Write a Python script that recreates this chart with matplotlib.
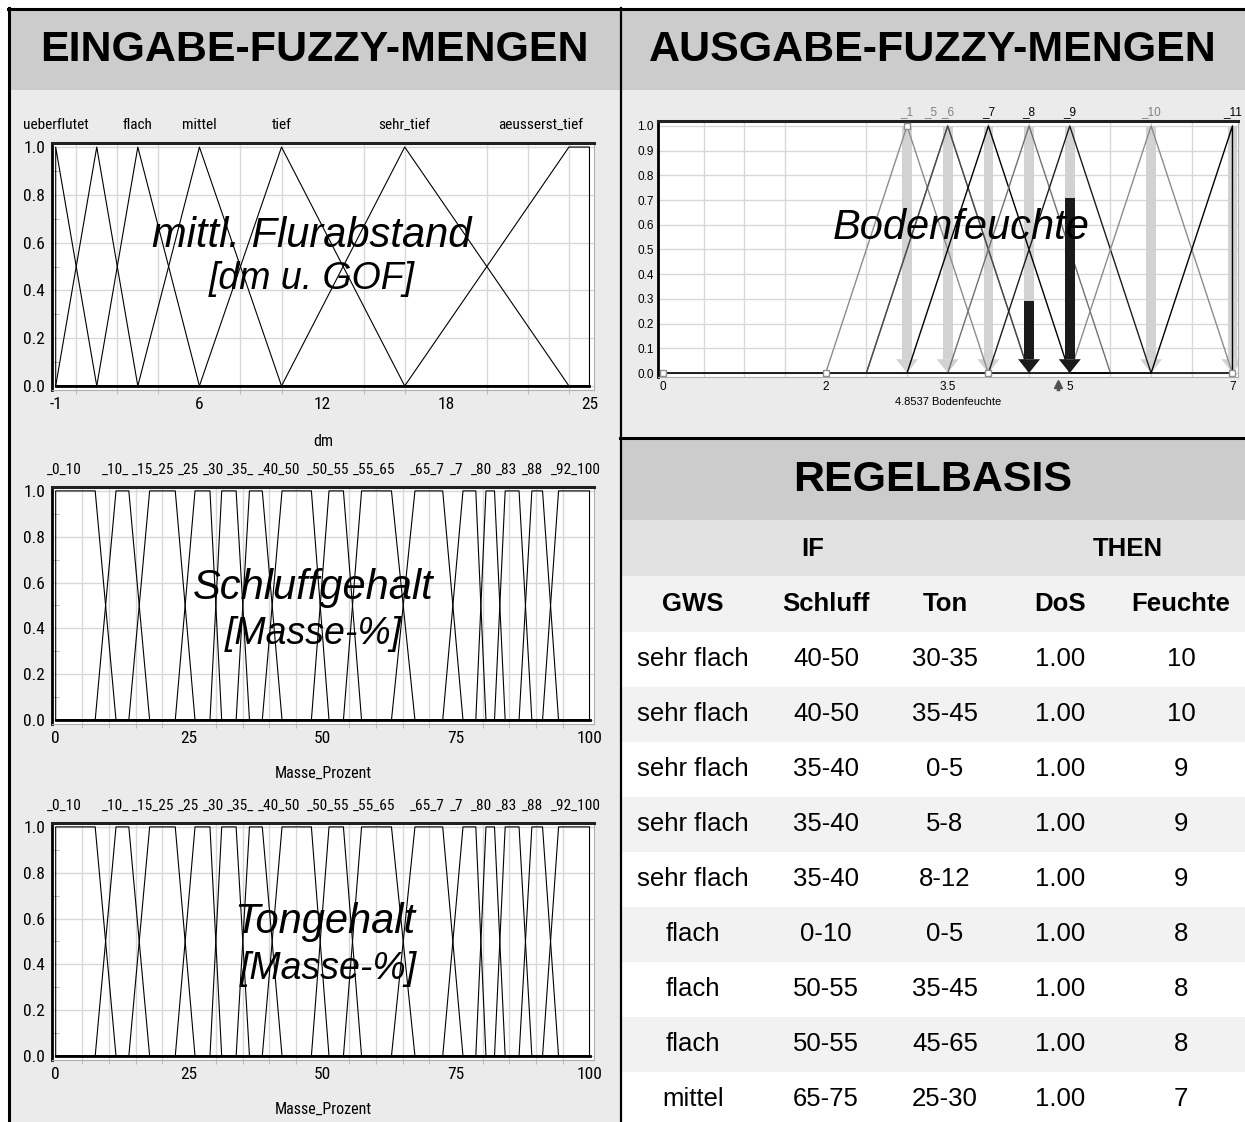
import os
import numpy as np
import matplotlib
matplotlib.use("Agg")
import matplotlib.pyplot as plt
from matplotlib import font_manager as fm
from matplotlib.patches import Rectangle, Polygon

W, H = 1245, 1122

# --- Eingabe: mittlerer Flurabstand [dm], Trapez-Stuetzpunkte a-b-c-d
flur_names = ["ueberflutet", "sehr_flach", "flach", "mittel", "tief", "sehr_tief", "aeusserst_tief"]
flur_a = [-1, -1, 1, 3, 6, 10, 16]
flur_b = [-1, 1, 3, 6, 10, 16, 24]
flur_c = [-1, 1, 3, 6, 10, 16, 25]
flur_d = [1, 3, 6, 10, 16, 24, 25]
flur_ticks = [-1, 6, 12, 18, 25]

# --- Eingabe: Schluff- und Tongehalt [Masse-%] (gleiche Mengen)
gehalt_names = ["_0_10", "_10_15", "_15_25", "_25_30", "_30_35", "_35_40", "_40_50", "_50_55",
                "_55_65", "_65_75", "_75_80", "_80_83", "_83_88", "_88_92", "_92_100"]
gehalt_label_x = [-1.7, 8.6, 14.2, 22.8, 27.5, 32, 37.8, 47, 55.6, 66.3, 73.8, 77.8, 82.5, 87.4, 92.8]
gehalt_a = [0, 7.4, 13.7, 22.4, 28.9, 33.8, 38.7, 47.9, 53.9, 62.9, 72.5, 78.7, 82.2, 86.8, 91.2]
gehalt_b = [0, 11.3, 17.6, 26.1, 31.1, 36.3, 42.4, 51.2, 57.3, 67.3, 76.3, 80.6, 84.2, 89.2, 94.2]
gehalt_c = [7.4, 13.7, 22.4, 28.9, 33.8, 38.7, 47.9, 53.9, 62.9, 72.5, 78.7, 82.2, 86.8, 91.2, 100]
gehalt_d = [11.3, 17.6, 26.1, 31.1, 36.3, 42.4, 51.2, 57.3, 67.3, 76.3, 80.6, 84.2, 89.2, 94.2, 100]
gehalt_ticks = [0, 25, 50, 75, 100]

# --- Ausgabe: Bodenfeuchte
out_names = ["_1", "_5", "_6", "_7", "_8", "_9", "_10", "_11"]
out_left = [2.0, 2.5, 2.5, 3.0, 3.5, 4.0, 5.0, 6.0]
out_peak = [3.0, 3.5, 3.5, 4.0, 4.5, 5.0, 6.0, 7.0]
out_right = [4.0, 4.5, 4.5, 5.0, 5.5, 6.0, 7.0, 7.0]
out_activation = [0.0, 0.0, 0.0, 0.0, 0.29, 0.71, 0.0, 0.0]
out_ticks = [0, 2, 3.5, 5, 7]
defuzz = 4.8537

# --- Regelbasis
gws = ["sehr flach", "sehr flach", "sehr flach", "sehr flach", "sehr flach", "flach", "flach", "flach", "mittel"]
schluff = ["40-50", "40-50", "35-40", "35-40", "35-40", "0-10", "50-55", "50-55", "65-75"]
ton = ["30-35", "35-45", "0-5", "5-8", "8-12", "0-5", "35-45", "45-65", "25-30"]
dos = [1.00, 1.00, 1.00, 1.00, 1.00, 1.00, 1.00, 1.00, 1.00]
feuchte = [10, 10, 9, 9, 9, 8, 8, 8, 7]

SANS = ["Liberation Sans", "DejaVu Sans"]
PANEL = "#ebebeb"
HEAD = "#cccccc"
GRID = "#d8d8d8"


def narrow_font(size):
    # schmale Schrift wie im Fuzzy-Programm, falls vorhanden
    prefs = ["LiberationSansNarrow-Regular", "RobotoCondensed-Regular", "DejaVuSansCondensed.ttf",
             "OpenSans_Condensed-Regular", "OpenSansCondensed"]
    files = [f.fname for f in fm.fontManager.ttflist]
    for p in prefs:
        for fn in files:
            if p in os.path.basename(fn):
                return fm.FontProperties(fname=fn, size=size)
    return fm.FontProperties(family="Liberation Sans", size=size * 0.85)


def box(x0, y0, x1, y1):
    return [x0 / W, 1 - y1 / H, (x1 - x0) / W, (y1 - y0) / H]


def trap(a, b, c, d, xmin, xmax):
    return [xmin, a, b, c, d, xmax], [0, 0, 1, 1, 0, 0]


def style_input_axes(ax, xlim, ylim, ticks, minor_x):
    ax.set_facecolor("white")
    ax.set_xlim(*xlim)
    ax.set_ylim(*ylim)
    ax.set_xticks(ticks)
    ax.set_xticklabels([str(t) for t in ticks], fontproperties=narrow_font(12.5))
    ax.set_xticks(minor_x, minor=True)
    ax.set_yticks(np.arange(0, 1.01, 0.2))
    ax.set_yticklabels([f"{v:.1f}" for v in np.arange(0, 1.01, 0.2)], fontproperties=narrow_font(12.5))
    ax.set_yticks(np.arange(0.1, 1.0, 0.2), minor=True)
    ax.grid(which="minor", axis="x", color=GRID, lw=1)
    ax.grid(which="major", axis="y", color=GRID, lw=1)
    ax.tick_params(which="major", length=0, pad=5)
    ax.tick_params(which="minor", axis="y", direction="in", length=5, color="#b0b0b0")
    ax.tick_params(which="minor", axis="x", direction="out", length=3, color="#b0b0b0")
    ax.spines["left"].set_linewidth(2)
    ax.spines["top"].set_linewidth(2.2)
    ax.spines["top"].set_color("#202020")
    ax.spines["right"].set_color("#b0b0b0")
    ax.spines["bottom"].set_color("#b0b0b0")
    ax.set_axisbelow(True)


def overlay(x, y, s, size):
    # grosse kursive Beschriftung ueber den Diagrammen
    fig.text(x / W, 1 - y / H, s, ha="center", va="center", family=SANS, fontsize=size,
             style="italic", zorder=10)


def clipped_labels(ax, xs, names, y, fp):
    # wie im Programm: jede Beschriftung endet vor der naechsten
    renderer = fig.canvas.get_renderer()
    texts = [ax.text(x, y, n, ha="left", va="center", fontproperties=fp, clip_on=False)
             for x, n in zip(xs, names)]
    for i in range(len(texts) - 1):
        limit = texts[i + 1].get_window_extent(renderer).x0 - 2
        s = names[i]
        while texts[i].get_window_extent(renderer).x1 > limit and len(s) > 1:
            s = s[:-1]
            texts[i].set_text(s)


fig = plt.figure(figsize=(W / 100, H / 100), dpi=100)
fig.patch.set_facecolor("white")

bg = fig.add_axes([0, 0, 1, 1])
bg.set_xlim(0, W)
bg.set_ylim(H, 0)
bg.axis("off")

# Hintergruende
bg.add_patch(Rectangle((9, 9), 611, 81, color=HEAD, lw=0))
bg.add_patch(Rectangle((621, 9), 624, 81, color=HEAD, lw=0))
bg.add_patch(Rectangle((9, 90), 611, H - 90, color=PANEL, lw=0))
bg.add_patch(Rectangle((621, 90), 624, 348, color=PANEL, lw=0))
bg.add_patch(Rectangle((621, 439), 624, 81, color=HEAD, lw=0))
bg.add_patch(Rectangle((621, 520), 624, 56, color="#e2e2e2", lw=0))
bg.add_patch(Rectangle((621, 576), 624, 56, color="#f2f2f2", lw=0))
row_h = 55
for i in range(len(gws)):
    col = "white" if i % 2 == 0 else "#f2f2f2"
    bg.add_patch(Rectangle((621, 632 + i * row_h), 624, row_h, color=col, lw=0))

# Rahmenlinien
bg.plot([8, W], [9, 9], color="black", lw=2.2)
bg.plot([9, 9], [8, H], color="black", lw=2.2)
bg.plot([620.5, 620.5], [8, H], color="black", lw=1.6)
bg.plot([620, W], [438, 438], color="black", lw=2.2)

# Ueberschriften
bg.text(314, 50, "EINGABE-FUZZY-MENGEN", ha="center", va="center", family=SANS,
        fontsize=31, fontweight="bold")
bg.text(933, 50, "AUSGABE-FUZZY-MENGEN", ha="center", va="center", family=SANS,
        fontsize=31, fontweight="bold")
bg.text(933, 480, "REGELBASIS", ha="center", va="center", family=SANS,
        fontsize=31, fontweight="bold")

# Tabelle
col_x = [693, 826, 945, 1060, 1181]
bg.text(813, 549, "IF", ha="center", va="center", family=SANS, fontsize=18.5, fontweight="bold")
bg.text(1128, 549, "THEN", ha="center", va="center", family=SANS, fontsize=18.5, fontweight="bold")
for x, head in zip(col_x, ["GWS", "Schluff", "Ton", "DoS", "Feuchte"]):
    bg.text(x, 604, head, ha="center", va="center", family=SANS, fontsize=18.5, fontweight="bold")
for i in range(len(gws)):
    y = 659 + i * row_h
    vals = [gws[i], schluff[i], ton[i], f"{dos[i]:.2f}", str(feuchte[i])]
    for x, v in zip(col_x, vals):
        bg.text(x, y, v, ha="center", va="center", family=SANS, fontsize=18.5)

# --- Flurabstand
ax1 = fig.add_axes(box(52, 143, 594, 390))
style_input_axes(ax1, (-1.18, 25.22), (-0.017, 1.017), flur_ticks, np.arange(0, 25, 2))
for a, b, c, d in zip(flur_a, flur_b, flur_c, flur_d):
    xs, ys = trap(a, b, c, d, -1, 25)
    ax1.plot(xs, ys, color="black", lw=0.8)
ax1.plot([-1, 25], [0, 0], color="black", lw=2)
for i, name in enumerate(flur_names):
    if name == "sehr_flach":
        continue  # im Original verdeckt
    if i == len(flur_names) - 1:
        ax1.text(flur_d[i] - 0.3, 1.092, name, ha="right", va="center", fontproperties=narrow_font(11),
                 clip_on=False)
    else:
        ax1.text(flur_b[i], 1.092, name, ha="center", va="center", fontproperties=narrow_font(11),
                 clip_on=False)
ax1.set_xlabel("dm", fontproperties=narrow_font(11.5), labelpad=16)
overlay(312, 236, "mittl. Flurabstand", 30)
overlay(312, 279, "[dm u. GOF]", 27)


def draw_gehalt(ax):
    style_input_axes(ax, (-0.69, 100.84), (-0.017, 1.017), gehalt_ticks, np.arange(0, 100, 5))
    for a, b, c, d in zip(gehalt_a, gehalt_b, gehalt_c, gehalt_d):
        xs, ys = trap(a, b, c, d, 0, 100)
        ax.plot(xs, ys, color="black", lw=0.8)
    ax.plot([0, 100], [0, 0], color="black", lw=2)
    clipped_labels(ax, gehalt_label_x, gehalt_names, 1.09, narrow_font(11))
    ax.set_xlabel("Masse_Prozent", fontproperties=narrow_font(11.5), labelpad=14)


ax2 = fig.add_axes(box(52, 487, 594, 724))
draw_gehalt(ax2)
overlay(313, 588, "Schluffgehalt", 30)
overlay(313, 634, "[Masse-%]", 27)

ax3 = fig.add_axes(box(52, 823, 594, 1060))
draw_gehalt(ax3)
overlay(325, 922, "Tongehalt", 30)
overlay(328, 969, "[Masse-%]", 27)

# --- Bodenfeuchte
ax4 = fig.add_axes(box(658, 121, 1238, 377))
ax4.set_facecolor("white")
ax4.set_xlim(-0.061, 7.068)
ax4.set_ylim(-0.016, 1.02)
ax4.set_xticks(out_ticks)
ax4.set_xticklabels([f"{t:g}" for t in out_ticks], family=SANS, fontsize=8.5)
ax4.set_xticks(np.arange(0, 7.01, 0.5), minor=True)
ax4.set_yticks(np.round(np.arange(0, 1.01, 0.1), 1))
ax4.set_yticklabels([f"{v:.1f}" for v in np.arange(0, 1.01, 0.1)], family=SANS, fontsize=8.5)
ax4.grid(which="minor", axis="x", color=GRID, lw=1)
ax4.grid(which="major", axis="y", color=GRID, lw=1)
ax4.tick_params(which="both", length=0, pad=3)
ax4.spines["left"].set_linewidth(2)
ax4.spines["top"].set_linewidth(2.2)
ax4.spines["top"].set_color("#202020")
ax4.spines["right"].set_color("#b0b0b0")
ax4.spines["bottom"].set_color("#b0b0b0")
ax4.set_axisbelow(True)

out_colors = ["#8c8c8c", "#8c8c8c", "#4a4a4a", "#000000", "#707070", "#1c1c1c", "#8c8c8c", "#000000"]
label_colors = ["#808080", "#808080", "#808080", "#000000", "#000000", "#000000", "#808080", "#000000"]

# Aktivierungspfeile
bar_w, head_w, head_h = 0.12, 0.27, 0.056
for p in sorted(set(out_peak)):
    act = max(v for v, q in zip(out_activation, out_peak) if q == p)
    ax4.add_patch(Rectangle((p - bar_w / 2, head_h), bar_w, 1 - head_h, color="#d2d2d2", lw=0, zorder=1))
    head_col = "#d2d2d2"
    if act > 0:
        ax4.add_patch(Rectangle((p - bar_w / 2, head_h), bar_w, act - head_h, color="#1a1a1a", lw=0, zorder=3))
        head_col = "#1a1a1a"
    ax4.add_patch(Polygon([(p - head_w / 2, head_h), (p + head_w / 2, head_h), (p, 0)],
                          closed=True, color=head_col, lw=0, zorder=3 if act > 0 else 1))

for i in range(len(out_names)):
    xs = [0, out_left[i], out_peak[i], out_right[i], 7]
    ys = [0, 0, 1, 0, 0]
    ax4.plot(xs, ys, color=out_colors[i], lw=1.0, zorder=2)
# ausgewaehlte Menge mit Stuetzpunkten
ax4.plot([0, out_left[0], out_peak[0], out_right[0], 7], [0, 0, 1, 0, 0], ls="none", marker="s",
         ms=5, mfc="white", mec="#909090", mew=1, zorder=4, clip_on=False)

label_dx = {"_5": -0.21}
for i, name in enumerate(out_names):
    ax4.text(out_peak[i] + label_dx.get(name, 0), 1.057, name, ha="center", va="center", family=SANS,
             fontsize=8.5, color=label_colors[i], clip_on=False)

ax4.plot([defuzz], [-0.045], marker="^", ms=6, color="#505050", clip_on=False, zorder=5)
ax4.plot([defuzz, defuzz], [-0.045, -0.065], color="#505050", lw=2.5, clip_on=False, zorder=5)
ax4.set_xlabel(f"{defuzz} Bodenfeuchte", family=SANS, fontsize=8, labelpad=3)
overlay(961, 228, "Bodenfeuchte", 30)

fig.savefig("out.png", dpi=100, facecolor="white")
